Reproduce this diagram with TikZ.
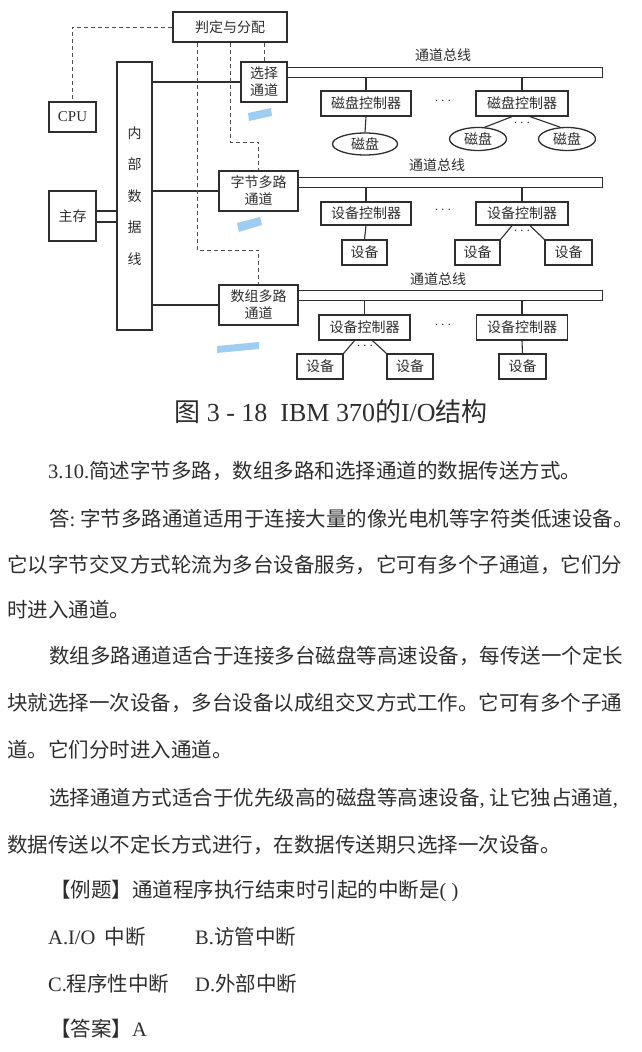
\documentclass[tikz,border=0pt]{standalone}
\usepackage{fontspec}
\usetikzlibrary{shapes.geometric}
\setmainfont{Liberation Serif}
\newfontfamily\cjk{Noto Sans CJK SC}
\definecolor{ink}{HTML}{2E2E2E}
\definecolor{hilite}{HTML}{9FCDF2}

\begin{document}
\begin{tikzpicture}[x=1pt,y=-1pt]

      \useasboundingbox[fill=white] (0,0) rectangle (641,1052);

      % boxes
      \begin{scope}[every node/.style={draw=ink,line width=1.3pt,inner sep=0pt,align=center,text=ink,font=\cjk\fontsize{14}{17}\selectfont}]
        \node[minimum width=114pt,minimum height=30pt] (pd)   at (230,27)    {判定与分配};
        \node[minimum width=47pt,minimum height=30pt]  (cpu)  at (72.5,117)  {\rmfamily\fontsize{15}{17}\selectfont CPU};
        \node[minimum width=47pt,minimum height=50pt]  (zc)   at (72.5,216)  {主存};
        \node[minimum width=35pt,minimum height=268pt,font=\cjk\fontsize{14}{31.5}\selectfont] (nbus) at (134.5,196) {内\\部\\数\\据\\线};
        \node[minimum width=46pt,minimum height=40pt]  (sel)  at (264,82)    {选择\\通道};
        \node[minimum width=79pt,minimum height=40pt]  (byte) at (258.5,191) {字节多路\\通道};
        \node[minimum width=79pt,minimum height=40pt]  (blk)  at (258.5,305) {数组多路\\通道};

        \node[minimum width=90pt,minimum height=25pt]  (dc1)  at (366,103.5) {磁盘控制器};
        \node[minimum width=92pt,minimum height=25pt]  (dc2)  at (522,103.5) {磁盘控制器};
        \node[minimum width=90pt,minimum height=23pt]  (ec1)  at (366,213.5) {设备控制器};
        \node[minimum width=92pt,minimum height=23pt]  (ec2)  at (522,213.5) {设备控制器};
        \node[minimum width=45pt,minimum height=25pt]  (d21)  at (364.5,252.5) {设备};
        \node[minimum width=45pt,minimum height=25pt]  (d22)  at (477.5,252.5) {设备};
        \node[minimum width=47pt,minimum height=25pt]  (d23)  at (568.5,252.5) {设备};
        \node[minimum width=91pt,minimum height=25pt]  (fc1)  at (364.5,327.5) {设备控制器};
        \node[minimum width=91pt,minimum height=25pt]  (fc2)  at (522,327.5) {设备控制器};
        \node[minimum width=46pt,minimum height=25pt]  (d31)  at (320,366.5) {设备};
        \node[minimum width=46pt,minimum height=25pt]  (d32)  at (410,366.5) {设备};
        \node[minimum width=47pt,minimum height=25pt]  (d33)  at (522.5,366.5) {设备};
      \end{scope}

      % disks
      \begin{scope}[every node/.style={ellipse,draw=ink,line width=1.3pt,inner sep=0pt,text=ink,font=\cjk\fontsize{14}{17}\selectfont}]
        \node[minimum width=65pt,minimum height=22pt] (k1) at (365,144) {磁盘};
        \node[minimum width=57pt,minimum height=23pt] (k2) at (478,139) {磁盘};
        \node[minimum width=57pt,minimum height=23pt] (k3) at (567,139) {磁盘};
      \end{scope}

      % channel buses
      \begin{scope}[every node/.style={draw=ink,line width=0.8pt,inner sep=0pt,minimum height=10pt,anchor=west}]
        \node[minimum width=315pt] (bus1) at (287,72)  {};
        \node[minimum width=304pt] (bus2) at (298,182) {};
        \node[minimum width=304pt] (bus3) at (298,295) {};
      \end{scope}

      \begin{scope}[every node/.style={inner sep=0pt,text=ink,font=\cjk\fontsize{14}{17}\selectfont}]
        \node (l1) at (443,55)  {通道总线};
        \node (l2) at (437,165) {通道总线};
        \node (l3) at (438,279) {通道总线};
        \node (p1) at (443,101) {$\cdots$};
        \node (p2) at (522,123) {$\cdots$};
        \node (p3) at (443,210) {$\cdots$};
        \node (p4) at (522,231) {$\cdots$};
        \node (p5) at (443,325) {$\cdots$};
        \node (p6) at (365,346) {$\cdots$};
      \end{scope}

      % solid links
      \begin{scope}[draw=ink,line width=1.1pt]
        \draw (sel.west -| nbus.east)  -- (sel.west);
        \draw (byte.west -| nbus.east) -- (byte.west);
        \draw (blk.west -| nbus.east)  -- (blk.west);
        \draw ([yshift=5pt]zc.east)  -- ([yshift=5pt]zc.east -| nbus.west);
        \draw ([yshift=-6pt]zc.east) -- ([yshift=-6pt]zc.east -| nbus.west);
        \draw (dc1.north |- bus1.south) -- (dc1.north);
        \draw (dc2.north |- bus1.south) -- (dc2.north);
        \draw (ec1.north |- bus2.south) -- (ec1.north);
        \draw (ec2.north |- bus2.south) -- (ec2.north);
        \draw (fc1.north |- bus3.south) -- (fc1.north);
        \draw (fc2.north |- bus3.south) -- (fc2.north);
        \draw (dc1.south) -- (k1.north);
        \draw ([xshift=-10pt]dc2.south) -- (k2.60);
        \draw ([xshift=8pt]dc2.south)   -- (k3.120);
        \draw (ec1.south) -- (d21.north);
        \draw ([xshift=-10pt]ec2.south) -- (d22.north east);
        \draw ([xshift=8pt]ec2.south)   -- (d23.north west);
        \draw ([xshift=-10pt]fc1.south) -- (d31.north east);
        \draw ([xshift=8pt]fc1.south)   -- (d32.north west);
        \draw (fc2.south) -- (d33.north);
      \end{scope}

      % control lines
      \coordinate (t1) at (197,250);
      \coordinate (t2) at (258.5,142);
      \begin{scope}[draw=ink!85,line width=1pt,dash pattern=on 4pt off 3pt]
        \draw (pd.west) -| (cpu.north);
        \draw (pd.south -| t1) -- (t1) -| (blk.north);
        \draw (pd.south) |- (t2) -- (byte.north);
        \draw (sel.north |- pd.south) -- (sel.north);
      \end{scope}

      % marker strokes
      \fill[hilite] (248,113) -- (271,108) -- (272,116) -- (249,121) -- cycle;
      \fill[hilite] (237,223) -- (260,217) -- (262,225) -- (239,232) -- cycle;
      \fill[hilite] (217,346) -- (259,342) -- (259,349) -- (217,353) -- cycle;

      \node[text=ink,font=\fontsize{26}{30}\selectfont] (cap) at (331,412)
        {{\cjk 图} 3 - 18\ \ IBM 370{\cjk 的}I/O{\cjk 结构}};

      % text lines
      \begin{scope}[every node/.style={anchor=west,inner sep=0pt,text=ink,font=\cjk\fontsize{20.5}{24}\selectfont}]
        \node (q)  at (48,471)  {{\rmfamily 3.10.}简述字节多路，数组多路和选择通道的数据传送方式。};
        \node (a1) at (49,519)  {答{\rmfamily :}\hspace{5pt}字节多路通道适用于连接大量的像光电机等字符类低速设备。};
        \node (a2) at (7,565)   {它以字节交叉方式轮流为多台设备服务，它可有多个子通道，它们分};
        \node (a3) at (7,610)   {时进入通道。};
        \node (b1) at (49,656)  {数组多路通道适合于连接多台磁盘等高速设备，每传送一个定长};
        \node (b2) at (7,703)   {块就选择一次设备，多台设备以成组交叉方式工作。它可有多个子通};
        \node (b3) at (7,750)   {道。它们分时进入通道。};
        \node (c1) at (49,798)  {选择通道方式适合于优先级高的磁盘等高速设备{\rmfamily ,}\hspace{5pt}让它独占通道{\rmfamily ,}};
        \node (c2) at (7,845)   {数据传送以不定长方式进行，在数据传送期只选择一次设备。};
        \node (ex) at (50,891)  {【例题】通道程序执行结束时引起的中断是{\rmfamily ( )}};
        \node (oa) at (48,937)  {{\rmfamily A.I/O}\ \ 中断};
        \node (ob) at (195,937) {{\rmfamily B.}访管中断};
        \node (oc) at (48,984)  {{\rmfamily C.}程序性中断};
        \node (od) at (195,984) {{\rmfamily D.}外部中断};
        \node (an) at (50,1029) {【答案】{\rmfamily A}};
      \end{scope}

    \end{tikzpicture}
\end{document}
